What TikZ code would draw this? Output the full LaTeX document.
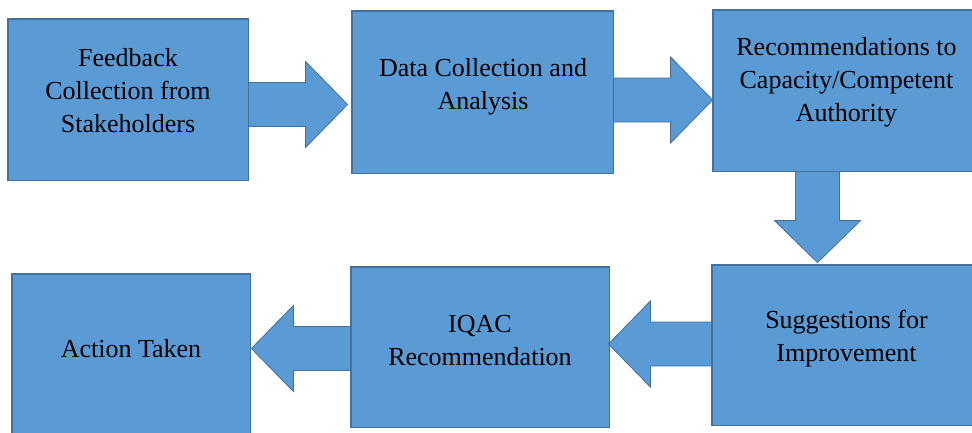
\documentclass[tikz,border=0pt]{standalone}
\usepackage{fontspec}
\setmainfont{Liberation Serif}
\usetikzlibrary{calc}

\definecolor{boxfill}{HTML}{5B9BD5}
\definecolor{boxedge}{HTML}{41719C}

% block arrow from tail #1 to tip #2
\newcommand{\flowarrow}[2]{%
  \coordinate (hb) at ($(#2)!42pt!(#1)$);
  \draw[flow] ($(#1)!22pt!90:(#2)$) -- ($(hb)!22pt!90:(#2)$) -- ($(hb)!43pt!90:(#2)$)
    -- (#2) -- ($(hb)!43pt!-90:(#2)$) -- ($(hb)!22pt!-90:(#2)$) -- ($(#1)!22pt!-90:(#2)$) -- cycle;}

\begin{document}
\begin{tikzpicture}[x=1pt, y=-1pt,
  stage/.style={rectangle, draw=boxedge, fill=boxfill, line width=0.8pt, inner sep=0pt},
  caption/.style={anchor=north, align=center, inner sep=0pt, text=black,
    font=\fontsize{26}{33}\selectfont},
  flow/.style={draw=boxedge, fill=boxfill, line width=0.8pt, line join=miter}]
\useasboundingbox (0,0) rectangle (972,432);
\fill[white] (0,0) rectangle (972,432);
\clip (0,0) rectangle (972,432);

% process stages
\path (128,99.5)   node[stage, minimum width=240pt, minimum height=161pt] (b1) {};
\path (482.5,92)   node[stage, minimum width=261pt, minimum height=162pt] (b2) {};
\path (844,90.5)   node[stage, minimum width=262pt, minimum height=161pt] (b3) {};
\path (843.5,345)  node[stage, minimum width=263pt, minimum height=160pt] (b4) {};
\path (480,347)    node[stage, minimum width=258pt, minimum height=160pt] (b5) {};
\path (131,354)    node[stage, minimum width=238pt, minimum height=160pt] (b6) {};

% arrow end points
\coordinate (a1s) at (b1.east |- 0,104.5);
\coordinate (a1t) at ($(b2.west |- 0,104.5)+(-4,0)$);
\coordinate (a2s) at (b2.east |- 0,100);
\coordinate (a2t) at (b3.west |- 0,100);
\coordinate (a3s) at (b3.south -| 817.5,0);
\coordinate (a3t) at ($(b4.north -| 817.5,0)+(0,-2)$);
\coordinate (a4s) at (b4.west |- 0,344);
\coordinate (a4t) at ($(b5.east |- 0,344)+(-1,0)$);
\coordinate (a5s) at (b5.west |- 0,348.5);
\coordinate (a5t) at ($(b6.east |- 0,348.5)+(1,0)$);

\flowarrow{a1s}{a1t}
\flowarrow{a2s}{a2t}
\flowarrow{a3s}{a3t}
\flowarrow{a4s}{a4t}
\flowarrow{a5s}{a5t}

% redraw stage outlines over the arrow tails
\foreach \b in {b1,b2,b3,b4,b5,b6} \draw[boxedge, line width=0.8pt] (\b.north west) rectangle (\b.south east);

% labels
\node[caption] (t1) at (128,48.2) {Feedback\\Collection from\\Stakeholders};
\node[caption] (t2) at (483,58.2) {Data Collection and\\Analysis};
\node[caption] (t3) at (846.5,37.2) {Recommendations to\\Capacity/Competent\\Authority};
\node[caption] (t4) at (846.5,310.2) {Suggestions for\\Improvement};
\node[caption] (t5) at (480,314.8) {IQAC\\Recommendation};
\node[caption] (t6) at (131,339.2) {Action Taken};
\end{tikzpicture}
\end{document}
